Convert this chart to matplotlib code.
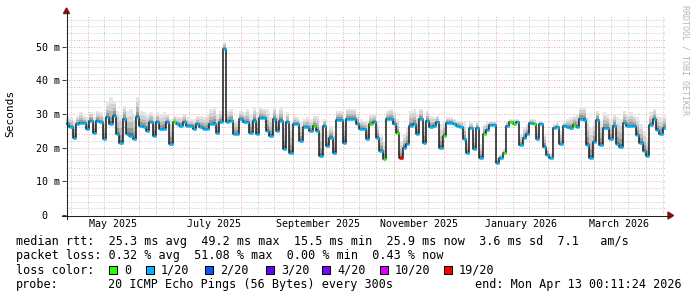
# SmokePing style latency chart (median rtt + smoke, one year)
import datetime as dt
import matplotlib
matplotlib.use('Agg')
import matplotlib.pyplot as plt
import matplotlib.dates as mdates
from matplotlib.lines import Line2D
from matplotlib.patches import Polygon, Rectangle

W, H = 697, 297
MONO = 'DejaVu Sans Mono'

start = dt.datetime(2025, 4, 18, 0, 11, 24)
end = dt.datetime(2026, 4, 13, 0, 11, 24)
BIN_DAYS = 2

# median rtt per 2-day step (ms)
median = [
    27.0, 26.0, 23.0, 27.0, 27.2, 27.2, 25.5, 28.0, 24.5, 27.8,
    27.5, 22.5, 29.0, 27.0, 29.5, 24.0, 21.5, 28.5, 24.0, 23.5,
    22.5, 29.0, 26.3, 26.0, 25.0, 27.5, 23.5, 27.5, 25.5, 25.5,
    27.5, 21.0, 27.5, 27.0, 26.5, 27.5, 26.3, 26.3, 25.5, 27.0,
    26.0, 25.5, 25.5, 27.0, 27.0, 24.5, 27.5, 49.2, 27.5, 28.0,
    24.0, 24.0, 28.5, 27.5, 27.5, 24.5, 28.0, 24.0, 28.7, 28.7,
    25.0, 23.5, 28.5, 25.0, 28.0, 19.5, 27.5, 18.5, 27.0, 27.0,
    22.0, 26.0, 26.0, 25.0, 26.5, 25.0, 17.5, 26.5, 20.5, 23.0,
    18.5, 28.3, 28.3, 21.5, 28.5, 28.5, 28.5, 27.0, 25.5, 25.5,
    22.5, 27.0, 27.5, 23.0, 19.0, 16.5, 28.5, 28.5, 27.0, 24.5,
    17.0, 20.0, 21.0, 26.5, 27.0, 24.0, 28.5, 21.5, 28.0, 26.0,
    26.5, 27.5, 20.0, 23.5, 27.3, 27.3, 27.0, 26.5, 26.0, 22.5,
    18.3, 25.7, 19.6, 25.7, 17.0, 24.2, 25.3, 26.7, 26.7, 15.5,
    16.8, 18.3, 26.3, 27.5, 27.0, 27.5, 20.8, 23.0, 24.2, 27.3,
    27.0, 22.6, 27.0, 20.3, 17.8, 16.8, 25.7, 26.0, 21.0, 26.3,
    26.0, 25.8, 26.8, 26.0, 28.6, 28.3, 20.9, 17.0, 21.8, 28.2,
    20.9, 25.8, 25.8, 22.5, 26.5, 21.0, 20.3, 27.3, 26.3, 26.3,
    26.3, 23.8, 21.3, 19.0, 17.4, 26.7, 28.6, 25.3, 24.0, 25.9,
]

# upper edge of the smoke (slowest pings) per step (ms)
smoke_top = [
    29.5, 29.0, 28.0, 29.5, 30.5, 29.5, 29.0, 30.5, 29.0, 31.0,
    30.5, 29.0, 33.5, 35.0, 34.0, 31.0, 30.0, 32.5, 31.0, 31.5,
    30.0, 35.0, 31.0, 30.5, 30.0, 30.5, 29.5, 30.5, 30.0, 30.5,
    30.0, 28.5, 29.5, 29.0, 29.0, 30.0, 29.0, 28.5, 28.5, 29.5,
    29.5, 29.0, 30.0, 31.5, 32.0, 30.0, 31.0, 51.5, 31.0, 31.5,
    28.5, 28.0, 31.0, 30.5, 31.5, 30.0, 32.0, 30.5, 32.0, 31.5,
    31.5, 29.0, 32.0, 30.0, 32.0, 28.0, 30.5, 27.0, 29.5, 29.0,
    27.5, 28.5, 29.0, 28.5, 29.5, 29.5, 26.5, 28.5, 25.0, 26.5,
    25.0, 31.0, 31.0, 28.5, 31.5, 31.5, 31.5, 30.0, 28.5, 28.0,
    28.0, 30.0, 30.0, 27.5, 24.0, 22.0, 31.0, 31.5, 30.5, 28.5,
    22.0, 24.0, 26.0, 31.0, 31.5, 30.0, 31.5, 28.0, 31.0, 29.5,
    29.0, 29.5, 27.0, 28.0, 29.0, 29.0, 28.5, 28.0, 28.0, 27.5,
    22.0, 27.5, 24.0, 28.0, 21.0, 27.0, 27.5, 28.0, 28.0, 17.0,
    18.0, 19.5, 27.5, 28.5, 28.5, 28.5, 24.0, 26.0, 27.0, 28.5,
    28.5, 26.0, 28.0, 24.0, 20.0, 18.5, 27.0, 27.5, 25.0, 27.5,
    28.5, 29.0, 29.5, 30.0, 32.0, 32.0, 29.0, 26.0, 28.0, 31.0,
    28.0, 30.5, 30.0, 28.5, 30.0, 29.0, 28.5, 31.0, 30.0, 30.5,
    29.5, 29.0, 27.0, 25.0, 23.0, 30.5, 31.5, 29.5, 29.0, 29.5,
]

# lost pings out of 20 per step
loss = [
    1, 1, 1, 1, 1, 1, 1, 1, 1, 1,
    1, 1, 1, 1, 1, 1, 1, 1, 1, 1,
    1, 1, 1, 1, 1, 1, 1, 1, 1, 1,
    1, 1, 0, 1, 1, 1, 1, 1, 1, 1,
    1, 1, 1, 1, 1, 1, 1, 1, 1, 1,
    1, 1, 1, 1, 1, 1, 1, 1, 1, 1,
    1, 1, 1, 1, 1, 1, 1, 1, 1, 1,
    1, 1, 1, 1, 0, 1, 1, 1, 1, 1,
    1, 1, 1, 1, 1, 1, 1, 1, 1, 1,
    1, 0, 1, 1, 1, 0, 1, 1, 1, 0,
    19, 1, 1, 1, 1, 1, 1, 1, 1, 1,
    1, 1, 1, 0, 1, 1, 1, 1, 1, 1,
    1, 1, 1, 1, 1, 0, 1, 1, 1, 1,
    1, 0, 1, 0, 0, 1, 1, 1, 1, 1,
    0, 1, 1, 1, 1, 1, 1, 1, 1, 1,
    1, 1, 0, 1, 1, 1, 1, 1, 1, 1,
    1, 1, 1, 1, 1, 1, 1, 1, 1, 1,
    1, 1, 1, 1, 1, 1, 1, 1, 1, 1,
]

loss_levels = ['0', '1/20', '2/20', '3/20', '4/20', '10/20', '19/20']
loss_keys = [0, 1, 2, 3, 4, 10, 19]
loss_colors = ['#26ff00', '#00b8ff', '#0059ff', '#5e00ff', '#7e00ff', '#dd00ff', '#ff0000']
color_of = dict(zip(loss_keys, loss_colors))

rtt_line = 'median rtt:  25.3 ms avg  49.2 ms max  15.5 ms min  25.9 ms now  3.6 ms sd  7.1   am/s'
loss_line = 'packet loss: 0.32 % avg  51.08 % max  0.00 % min  0.43 % now'
probe_text = '20 ICMP Echo Pings (56 Bytes) every 300s'
end_text = 'end: Mon Apr 13 00:11:24 2026'

month_labels = ['May 2025', 'July 2025', 'September 2025', 'November 2025',
                'January 2026', 'March 2026']
month_label_dates = [dt.datetime(2025, 5, 16), dt.datetime(2025, 7, 16), dt.datetime(2025, 9, 16),
                     dt.datetime(2025, 11, 16), dt.datetime(2026, 1, 16), dt.datetime(2026, 3, 16)]

YMAX = 59.4


def px(x, y):
    return x / W, 1 - y / H


fig = plt.figure(figsize=(W / 100, H / 100), dpi=100)
fig.patch.set_facecolor('white')
ax = fig.add_axes([66 / W, (H - 215) / H, 600 / W, 200 / H])
ax.set_xlim(mdates.date2num(start), mdates.date2num(end))
ax.set_ylim(0, YMAX)
for s in ax.spines.values():
    s.set_visible(False)

# grid: minor every 2 ms / 10 days, major every 10 ms / month
dots = (0, (1, 1.5))
MINOR = '#cacaca'
MAJOR = '#f0b0b0'
for v in range(2, 60, 2):
    if v % 10:
        ax.axhline(v, color=MINOR, lw=0.72, ls=dots, zorder=0)
for v in range(10, 60, 10):
    ax.axhline(v, color=MAJOR, lw=0.72, ls=dots, zorder=0.5)
d = dt.datetime(2025, 4, 1)
while d < end:
    for day in (1, 11, 21):
        g = d.replace(day=day)
        if start < g < end:
            c = MAJOR if day == 1 else MINOR
            ax.axvline(mdates.date2num(g), color=c, lw=0.72, ls=dots, zorder=0.5 if day == 1 else 0)
    d = (d + dt.timedelta(days=32)).replace(day=1)

# step positions
n = len(median)
lefts = [mdates.date2num(start + dt.timedelta(days=BIN_DAYS * i)) for i in range(n)]
edges = lefts + [mdates.date2num(start + dt.timedelta(days=BIN_DAYS * n))]

# smoke: shaded from dark (near median) to light (near slowest ping)
shades = [(0.0, 0.1, '#6c6c6c'), (0.1, 0.28, '#979797'), (0.28, 0.5, '#b9b9b9'),
          (0.5, 0.75, '#d2d2d2'), (0.75, 1.0, '#e6e6e6')]
for f0, f1, c in shades:
    bottoms = [m + f0 * (t - m) for m, t in zip(median, smoke_top)]
    heights = [(f1 - f0) * (t - m) for m, t in zip(median, smoke_top)]
    ax.bar(lefts, heights, width=BIN_DAYS, bottom=bottoms, align='edge',
           color=c, linewidth=0, zorder=2)

# median line: dark steps, horizontal parts coloured by loss
ax.step(edges, median + [median[-1]], where='post', color='#1a1a1a', lw=1.1, zorder=3)
ax.hlines(median, lefts, edges[1:], colors=[color_of[l] for l in loss], lw=1.9, zorder=4)

# ticks and labels
ax.set_yticks(range(0, 60, 10))
ax.set_yticklabels([' 0  '] + ['%d m' % v for v in range(10, 60, 10)],
                   fontfamily=MONO, fontsize=7.2)
ax.tick_params(axis='y', length=3, width=0.75, pad=1.6, color='#404040')
ax.set_xticks([mdates.date2num(t) for t in month_label_dates])
ax.set_xticklabels(month_labels, fontfamily=MONO, fontsize=7.2)
ax.tick_params(axis='x', length=0, pad=3.2)

# axes with arrows
fig.add_artist(Line2D([px(62, 0)[0], px(671, 0)[0]], [px(0, 215.5)[1]] * 2, color='#202020', lw=0.75))
fig.add_artist(Line2D([px(66.5, 0)[0]] * 2, [px(0, 219)[1], px(0, 12)[1]], color='#202020', lw=0.75))
fig.add_artist(Polygon([px(668, 212), px(673.5, 215.5), px(668, 219)], closed=True,
                       color='#8b1010', transform=fig.transFigure))
fig.add_artist(Polygon([px(63.5, 13.5), px(66.5, 8), px(69.5, 13.5)], closed=True,
                       color='#8b1010', transform=fig.transFigure))

fig.text(*px(10.5, 113.5), 'Seconds', rotation=90, ha='center', va='center',
         fontfamily=MONO, fontsize=8)
fig.text(*px(685.5, 60), 'RRDTOOL / TOBI OETIKER', rotation=270, ha='center', va='center',
         fontfamily=MONO, fontsize=6, color='#b4b4b4')

# legend block
LF = 8.45
rows_y = [241, 255.5, 270, 284.5]


def txt(x, y, s):
    fig.text(*px(x, y), s, ha='left', va='center', fontfamily=MONO, fontsize=LF)


txt(16, rows_y[0], rtt_line)
txt(16, rows_y[1], loss_line)
txt(16, rows_y[2], 'loss color:')
for x, s, c in zip([109, 146, 205, 266, 322, 380, 444], loss_levels, loss_colors):
    fig.add_artist(Rectangle(px(x, rows_y[2] + 4), 8 / W, 8 / H, facecolor=c,
                             edgecolor='black', lw=0.75, transform=fig.transFigure))
    txt(x + 15, rows_y[2], s)
txt(16, rows_y[3], 'probe:')
txt(108, rows_y[3], probe_text)
txt(475, rows_y[3], end_text)

fig.savefig('out.png', dpi=100)
